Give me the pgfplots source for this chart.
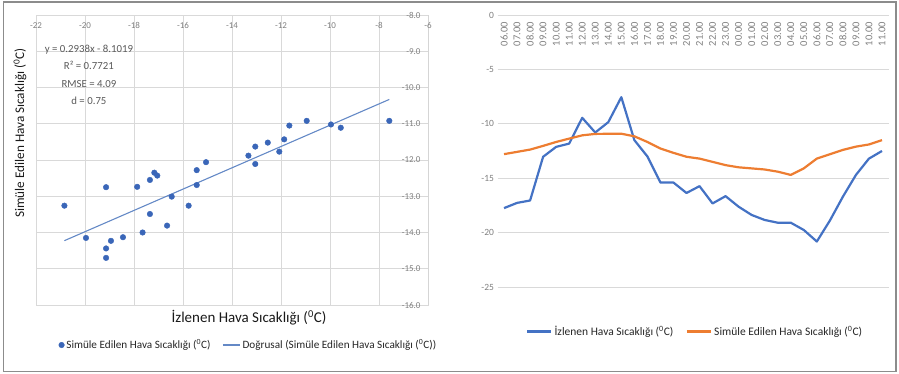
\documentclass[border=0pt]{standalone}
\usepackage{pgfplots}
\pgfplotsset{compat=1.18}
\usepackage{fontspec}
\setmainfont{Carlito}
\definecolor{gridgray}{HTML}{D9D9D9}
\definecolor{axgray}{HTML}{BFBFBF}
\definecolor{tickgray}{HTML}{7F7F7F}
\definecolor{txtgray}{HTML}{595959}
\definecolor{dotblue}{HTML}{3A66B8}
\definecolor{lineblue}{HTML}{4472C4}
\definecolor{trendblue}{HTML}{6489C6}
\definecolor{lineorange}{HTML}{ED7D31}
\begin{document}
\begin{tikzpicture}
\path[use as bounding box] (0pt,0pt) rectangle (899pt,374pt);
\draw[color=gray!90, line width=1.3pt] (3.5pt,2.5pt) rectangle (896pt,372pt);
% ---------------- left scatter ----------------
\begin{axis}[at={(36pt,69pt)}, anchor=south west, scale only axis,
  width=392pt, height=290pt,
  xmin=-22, xmax=-6, ymin=-16, ymax=-8,
  xtick={-22,-20,...,-6}, ytick={-16,-15,...,-8},
  grid=major, major grid style={draw=gridgray, line width=0.6pt},
  axis line style={draw=gridgray, line width=0.6pt},
  tick style={draw=none},
  xticklabel pos=upper, yticklabel pos=right,
  /pgf/number format/assume math mode=true,
  x tick label style={anchor=north, yshift=-4pt, font=\fontsize{9}{10}\selectfont, text=tickgray},
  y tick label style={anchor=east, xshift=-4pt, font=\fontsize{9}{10}\selectfont, text=tickgray,
     /pgf/number format/.cd, fixed, fixed zerofill, precision=1},
  legend style={at={(axis description cs:0.542,-0.138)}, anchor=center, draw=none,
     font=\fontsize{11.2}{13}\selectfont, text=black!85, legend columns=2,
     /tikz/every even column/.append style={column sep=10pt}},
  legend cell align=left,
]
\draw[axgray, line width=0.8pt] (axis cs:-6,-16) -- (axis cs:-6,-8);
\addplot[only marks, mark=*, mark size=2.8pt, color=dotblue] coordinates {
(-19.14,-12.75) (-17.87,-12.74) (-17.35,-12.55) (-17.17,-12.35) (-17.05,-12.43)
(-15.44,-12.28) (-15.06,-12.06) (-15.44,-12.69) (-13.33,-11.88) (-13.05,-11.63)
(-13.05,-12.11) (-12.54,-11.52) (-12.07,-11.77) (-11.87,-11.43) (-11.66,-11.05)
(-10.95,-10.92) (-9.96,-11.02) (-9.56,-11.11) (-7.58,-10.92)
(-20.84,-13.26) (-19.96,-14.15) (-19.14,-14.44) (-19.14,-14.70) (-18.94,-14.23)
(-18.45,-14.13) (-17.65,-14.00) (-17.35,-13.49) (-16.46,-13.01) (-16.65,-13.81)
(-15.77,-13.26)
};
\addlegendentry{Simüle Edilen Hava Sıcaklığı (\textsuperscript{0}C)}
\addplot[no marks, color=trendblue, line width=1.1pt] coordinates {(-20.84,-14.225) (-7.58,-10.329)};
\addlegendentry{Doğrusal (Simüle Edilen Hava Sıcaklığı (\textsuperscript{0}C))}
\node[align=center, text=txtgray, font=\fontsize{10.8}{17.5}\selectfont, anchor=north] at (axis cs:-19.84,-8.72)
  {y = 0.2938x - 8.1019\\R² = 0.7721\\RMSE = 4.09\\d = 0.75};
\end{axis}
\node[rotate=90, font=\fontsize{13.2}{15}\selectfont, text=black!90] at (20pt,241pt) {Simüle Edilen Hava Sıcaklığı (\textsuperscript{0}C)};
\node[font=\fontsize{15}{17}\selectfont, text=black!90] at (249pt,56pt) {İzlenen Hava Sıcaklığı (\textsuperscript{0}C)};
% ---------------- right time series ----------------
\begin{axis}[at={(497.5pt,87pt)}, anchor=south west, scale only axis,
  width=391pt, height=272pt,
  xmin=-0.5, xmax=29.5, ymin=-25, ymax=0,
  ytick={-25,-20,...,0}, ymajorgrids, major grid style={draw=gridgray, line width=0.6pt},
  xtick={0,...,29},
  xticklabels={06.00,07.00,08.00,09.00,10.00,11.00,12.00,13.00,14.00,15.00,16.00,17.00,18.00,19.00,20.00,21.00,22.00,23.00,00.00,01.00,02.00,03.00,04.00,05.00,06.00,07.00,08.00,09.00,10.00,11.00},
  xticklabel pos=upper,
  axis line style={draw=none}, tick style={draw=none},
  /pgf/number format/assume math mode=true,
  x tick label style={rotate=90, anchor=east, inner xsep=7pt, font=\fontsize{10.5}{11}\selectfont, text=tickgray},
  y tick label style={font=\fontsize{9.5}{11}\selectfont, text=tickgray},
  legend style={at={(axis description cs:0.505,-0.165)}, anchor=center, draw=none,
     font=\fontsize{11.5}{13}\selectfont, text=black!85, legend columns=2,
     /tikz/every even column/.append style={column sep=10pt}},
  legend image code/.code={\draw[#1, line width=2.8pt] (0pt,0pt) -- (24pt,0pt);},
]
\addplot[color=lineblue, line width=2.2pt, line join=round] coordinates {
(0,-17.75) (1,-17.27) (2,-17.05) (3,-13.03) (4,-12.12) (5,-11.82) (6,-9.45) (7,-10.8)
(8,-9.85) (9,-7.55) (10,-11.5) (11,-13.0) (12,-15.4) (13,-15.4) (14,-16.36) (15,-15.73)
(16,-17.32) (17,-16.65) (18,-17.62) (19,-18.38) (20,-18.84) (21,-19.09) (22,-19.09)
(23,-19.76) (24,-20.82) (25,-18.9) (26,-16.7) (27,-14.7) (28,-13.2) (29,-12.5)
};
\addlegendentry{İzlenen Hava Sıcaklığı (\textsuperscript{0}C)}
\addplot[color=lineorange, line width=2.2pt, line join=round] coordinates {
(0,-12.79) (1,-12.58) (2,-12.37) (3,-12.03) (4,-11.67) (5,-11.36) (6,-11.06) (7,-10.93)
(8,-10.92) (9,-10.91) (10,-11.15) (11,-11.67) (12,-12.27) (13,-12.67) (14,-13.03)
(15,-13.2) (16,-13.5) (17,-13.8) (18,-14.0) (19,-14.1) (20,-14.2) (21,-14.4) (22,-14.7)
(23,-14.1) (24,-13.2) (25,-12.8) (26,-12.4) (27,-12.1) (28,-11.9) (29,-11.5)
};
\addlegendentry{Simüle Edilen Hava Sıcaklığı (\textsuperscript{0}C)}
\node[rotate=90, font=\fontsize{9.5}{11}\selectfont, text=tickgray] at (axis description cs:-0.075,0.496) {Sıcaklık (C)};
\node[font=\fontsize{9.5}{11}\selectfont, text=tickgray] at (axis description cs:0.5,-0.037) {Saat};
\end{axis}
\end{tikzpicture}
\end{document}
